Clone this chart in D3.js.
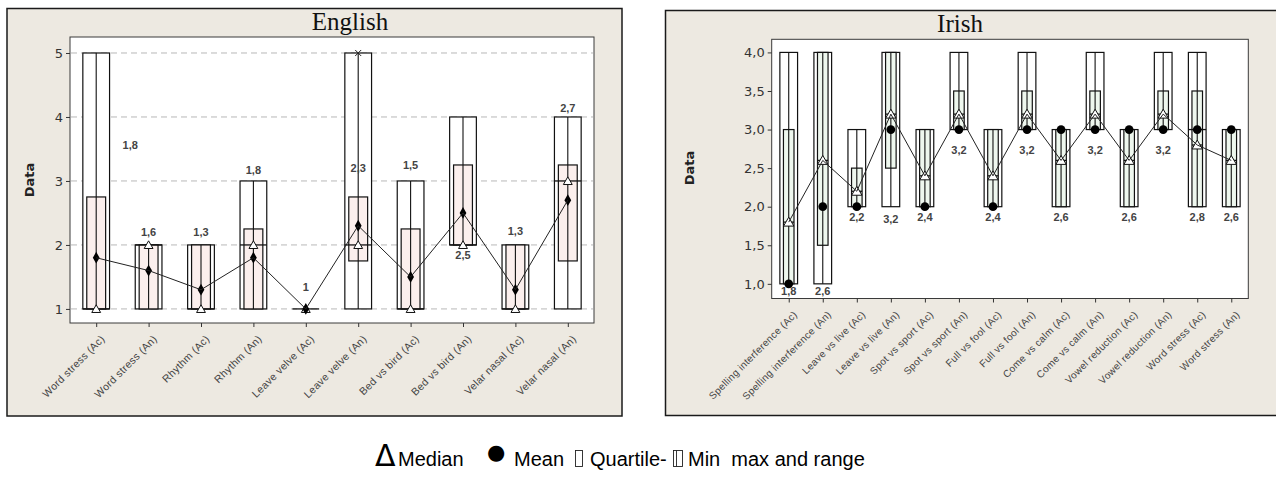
<!DOCTYPE html>
<html>
<head>
<meta charset="utf-8">
<script src="https://cdn.jsdelivr.net/npm/d3@7"></script>
<style>
  html, body { margin: 0; padding: 0; background: #ffffff; }
  svg { display: block; }
</style>
</head>
<body>
<svg id="chart" width="1276" height="485"></svg>
<script>
// ---------- English panel data ----------
const engCategories = ["Word stress (Ac)", "Word stress (An)", "Rhythm (Ac)", "Rhythm (An)",
  "Leave velve (Ac)", "Leave velve (An)", "Bed vs bird (Ac)", "Bed vs bird (An)",
  "Velar nasal (Ac)", "Velar nasal (An)"];
const engMin    = [1, 1, 1, 1, 1, 1, 1, 2, 1, 1];
const engMax    = [5, 2, 2, 3, 1, 5, 3, 4, 2, 4];
const engQ1     = [1, 1, 1, 1, 1, 1.75, 1, 2, 1, 1.75];
const engQ3     = [2.75, 2, 2, 2.25, 1, 2.75, 2.25, 3.25, 2, 3.25];
const engMedian = [1, 2, 1, 2, 1, 2, 1, 2, 1, 3];
const engMean   = [1.8, 1.6, 1.3, 1.8, 1, 2.3, 1.5, 2.5, 1.3, 2.7];
const engOutlier = [null, null, null, null, null, 5, null, null, null, null];
const engTicks  = [1, 2, 3, 4, 5];

// ---------- Irish panel data ----------
const irCategories = ["Spelling interference (Ac)", "Spelling interference (An)",
  "Leave vs live (Ac)", "Leave vs live (An)", "Spot vs sport (Ac)", "Spot vs sport (An)",
  "Full vs fool (Ac)", "Full vs fool (An)", "Come vs calm (Ac)", "Come vs calm (An)",
  "Vowel reduction (Ac)", "Vowel reduction (An)", "Word stress (Ac)", "Word stress (An)"];
const irMin    = [1, 1, 2, 2, 2, 3, 2, 3, 2, 3, 2, 3, 2, 2];
const irMax    = [4, 4, 3, 4, 3, 4, 3, 4, 3, 4, 3, 4, 4, 3];
const irQ1     = [1, 1.5, 2, 2.5, 2, 3, 2, 3, 2, 3, 2, 3, 2, 2];
const irQ3     = [3, 4, 2.5, 4, 3, 3.5, 3, 3.5, 3, 3.5, 3, 3.5, 3.5, 3];
const irMedian = [1.8, 2.6, 2.2, 3.2, 2.4, 3.2, 2.4, 3.2, 2.6, 3.2, 2.6, 3.2, 2.8, 2.6];
const irMean   = [1, 2, 2, 3, 2, 3, 2, 3, 3, 3, 3, 3, 3, 3];
const irCut    = [null, null, null, null, null, null, null, null, null, null, null, null, 3, null];
const irTicks  = [1, 1.5, 2, 2.5, 3, 3.5, 4];

// value-label placement (in data units on the y axis)
const engLabelAt = [3.56, 2.2, 2.2, 3.17, 1.34, 3.2, 3.25, 1.84, 2.22, 4.14];
const irLabelAt  = [0.9, 0.9, 1.86, 1.84, 1.86, 2.73, 1.86, 2.73, 1.87, 2.73, 1.87, 2.73, 1.87, 1.87];

const svg = d3.select("#chart");
const commaFmt = d => d3.format(".1f")(d).replace(".", ",");
const intOrComma = d => Number.isInteger(d) ? String(d) : commaFmt(d);

function panel(cfg) {
  const g = svg.append("g");
  // outer frame
  g.append("rect")
    .attr("x", cfg.frame.x).attr("y", cfg.frame.y)
    .attr("width", cfg.frame.w).attr("height", cfg.frame.h)
    .attr("fill", "#ede9e1").attr("stroke", "#1a1a1a").attr("stroke-width", 1.5);
  // plot area
  g.append("rect")
    .attr("x", cfg.plot.x).attr("y", cfg.plot.y)
    .attr("width", cfg.plot.w).attr("height", cfg.plot.h)
    .attr("fill", "#ffffff").attr("stroke", "#3a3a3a").attr("stroke-width", 1);

  // title
  g.append("text")
    .attr("x", cfg.titleX).attr("y", cfg.titleY)
    .attr("text-anchor", "middle")
    .attr("font-family", "'Liberation Serif', 'Times New Roman', serif")
    .attr("font-size", 25).attr("fill", "#111")
    .text(cfg.title);

  const x = d3.scalePoint().domain(cfg.categories)
    .range([cfg.plot.x, cfg.plot.x + cfg.plot.w]).padding(0.5);
  const y = d3.scaleLinear().domain(cfg.yDomain)
    .range([cfg.plot.y + cfg.plot.h, cfg.plot.y]);
  const step = x.step();
  const outerW = step * cfg.outerFrac, innerW = step * cfg.innerFrac;

  // gridlines
  if (cfg.grid) {
    g.append("g").selectAll("line").data(cfg.ticks).join("line")
      .attr("x1", cfg.plot.x + 1).attr("x2", cfg.plot.x + cfg.plot.w - 1)
      .attr("y1", d => y(d)).attr("y2", d => y(d))
      .attr("stroke", "#b8b8b8").attr("stroke-width", 1)
      .attr("stroke-dasharray", "6,4");
  }

  // y axis
  const yAxis = g.append("g")
    .attr("transform", `translate(${cfg.plot.x},0)`)
    .call(d3.axisLeft(y).tickValues(cfg.ticks).tickSize(4).tickPadding(3).tickFormat(cfg.tickFmt));
  yAxis.select(".domain").remove();
  yAxis.selectAll(".tick line").attr("stroke", "#333");
  yAxis.selectAll(".tick text")
    .attr("font-family", "'DejaVu Sans', Verdana, sans-serif")
    .attr("font-size", 13).attr("fill", "#333");

  // y axis title
  g.append("text")
    .attr("transform", `translate(${cfg.yTitleX},${cfg.yTitleY}) rotate(-90)`)
    .attr("text-anchor", "middle")
    .attr("font-family", "'DejaVu Sans', Verdana, sans-serif")
    .attr("font-weight", "bold").attr("font-size", 13).attr("fill", "#222")
    .text("Data");

  // x axis
  const xAxis = g.append("g")
    .attr("transform", `translate(0,${cfg.plot.y + cfg.plot.h})`)
    .call(d3.axisBottom(x).tickSize(4).tickPadding(4));
  xAxis.select(".domain").remove();
  xAxis.selectAll(".tick line").attr("stroke", "#333");
  xAxis.selectAll(".tick text")
    .attr("font-family", "'Liberation Sans', Arial, sans-serif")
    .attr("font-size", cfg.xFont).attr("fill", "#444")
    .attr("letter-spacing", 0.3)
    .attr("text-anchor", "end")
    .attr("dy", 0)
    .attr("transform", "translate(3,11) rotate(-45)");

  const idx = d3.range(cfg.categories.length);
  const cx = i => x(cfg.categories[i]);

  // range boxes (min to max)
  g.append("g").selectAll("rect").data(idx).join("rect")
    .attr("x", i => cx(i) - outerW / 2).attr("width", outerW)
    .attr("y", i => y(cfg.max[i])).attr("height", i => y(cfg.min[i]) - y(cfg.max[i]))
    .attr("fill", "#ffffff").attr("stroke", "#111").attr("stroke-width", 1.2);

  // quartile boxes
  g.append("g").selectAll("rect").data(idx).join("rect")
    .attr("x", i => cx(i) - innerW / 2).attr("width", innerW)
    .attr("y", i => y(cfg.q3[i])).attr("height", i => y(cfg.q1[i]) - y(cfg.q3[i]))
    .attr("fill", cfg.fill).attr("stroke", "#111").attr("stroke-width", 1.2);

  // centre line of each range
  g.append("g").selectAll("line").data(idx).join("line")
    .attr("x1", i => cx(i)).attr("x2", i => cx(i))
    .attr("y1", i => y(cfg.max[i])).attr("y2", i => y(cfg.min[i]))
    .attr("stroke", "#111").attr("stroke-width", 1.1);

  // median bar
  const mw = cfg.medianBarOuter ? outerW : innerW;
  g.append("g").selectAll("line").data(idx).join("line")
    .attr("x1", i => cx(i) - mw / 2).attr("x2", i => cx(i) + mw / 2)
    .attr("y1", i => y(cfg.median[i])).attr("y2", i => y(cfg.median[i]))
    .attr("stroke", "#111").attr("stroke-width", 1.3);

  // extra cut line across the range box
  if (cfg.cut) {
    g.append("g").selectAll("line").data(idx.filter(i => cfg.cut[i] != null)).join("line")
      .attr("x1", i => cx(i) - outerW / 2).attr("x2", i => cx(i) + outerW / 2)
      .attr("y1", i => y(cfg.cut[i])).attr("y2", i => y(cfg.cut[i]))
      .attr("stroke", "#111").attr("stroke-width", 1.3);
  }

  // outlier crosses
  if (cfg.outlier) {
    g.append("g").selectAll("path").data(idx.filter(i => cfg.outlier[i] != null)).join("path")
      .attr("transform", i => `translate(${cx(i)},${y(cfg.outlier[i])})`)
      .attr("d", "M-3,-3L3,3M-3,3L3,-3")
      .attr("stroke", "#222").attr("stroke-width", 1);
  }

  // median triangles
  const tri = d3.symbol().type(d3.symbolTriangle).size(cfg.triSize);
  g.append("g").selectAll("path").data(idx).join("path")
    .attr("transform", i => `translate(${cx(i)},${y(cfg.median[i]) + 1})`)
    .attr("d", tri)
    .attr("fill", "#ffffff").attr("stroke", "#111").attr("stroke-width", 1);

  // mean markers
  const meanSym = d3.symbol().type(cfg.meanShape).size(cfg.meanSize);
  g.append("g").selectAll("path").data(idx).join("path")
    .attr("transform", i => `translate(${cx(i)},${y(cfg.mean[i])})`)
    .attr("d", meanSym)
    .attr("fill", "#000");

  // connecting line
  const lineVals = cfg.connect;
  g.append("path")
    .datum(idx)
    .attr("d", d3.line().x(i => cx(i)).y(i => y(lineVals[i])))
    .attr("fill", "none").attr("stroke", "#222").attr("stroke-width", 1);

  // value labels
  g.append("g").selectAll("text").data(idx).join("text")
    .attr("x", i => cx(i) + (cfg.labelDx[i] || 0))
    .attr("y", i => y(cfg.labelAt[i]))
    .attr("dy", "0.35em")
    .attr("text-anchor", "middle")
    .attr("font-family", "'Liberation Sans', Arial, sans-serif")
    .attr("font-weight", "bold").attr("font-size", 11).attr("fill", "#444")
    .text(i => cfg.labelFmt(cfg.labelVals[i]));
}

panel({
  title: "English", titleX: 350, titleY: 30,
  frame: { x: 7, y: 8.5, w: 615, h: 407.5 },
  plot: { x: 70, y: 37, w: 524, h: 286 },
  yTitleX: 34, yTitleY: 180, xFont: 10.5,
  categories: engCategories,
  min: engMin, max: engMax, q1: engQ1, q3: engQ3,
  median: engMedian, mean: engMean, outlier: engOutlier,
  connect: engMean, labelVals: engMean, labelAt: engLabelAt,
  labelDx: [34], labelFmt: intOrComma,
  yDomain: [0.78, 5.25], ticks: engTicks, tickFmt: d3.format("d"), grid: true,
  outerFrac: 0.51, innerFrac: 0.36, medianBarOuter: true,
  fill: "#fbefed", triSize: 34, meanShape: d3.symbolDiamond, meanSize: 40
});

panel({
  title: "Irish", titleX: 960, titleY: 32,
  frame: { x: 665.5, y: 10.5, w: 640, h: 405 },
  plot: { x: 771.7, y: 39.3, w: 476.6, h: 259.2 },
  yTitleX: 694, yTitleY: 168, xFont: 10,
  categories: irCategories,
  min: irMin, max: irMax, q1: irQ1, q3: irQ3,
  median: irMedian, mean: irMean, cut: irCut,
  connect: irMedian, labelVals: irMedian, labelAt: irLabelAt,
  labelDx: [], labelFmt: commaFmt,
  yDomain: [0.81, 4.17], ticks: irTicks, tickFmt: commaFmt, grid: false,
  outerFrac: 0.52, innerFrac: 0.31, medianBarOuter: false,
  fill: "#eef7ee", triSize: 46, meanShape: d3.symbolCircle, meanSize: 60
});

// ---------- legend ----------
const legendText = [
  { t: "\u0394", x: 375, size: 30, dy: 0, family: "'DejaVu Sans', sans-serif" },
  { t: "Median", x: 398, size: 20, dy: 0 },
  { t: "\u25CF", x: 487, size: 21, dy: -7, family: "'DejaVu Sans', sans-serif" },
  { t: "Mean", x: 514, size: 20, dy: 0 },
  { t: "Quartile-", x: 590, size: 20, dy: 0 },
  { t: "Min  max and range", x: 688, size: 20, dy: 0 }
];
svg.append("g").selectAll("text").data(legendText).join("text")
  .attr("x", d => d.x).attr("y", d => 466 + d.dy)
  .attr("font-family", d => d.family || "'Liberation Sans', Arial, sans-serif")
  .attr("font-size", d => d.size).attr("fill", "#000")
  .style("white-space", "pre")
  .text(d => d.t);

// empty glyph boxes of the legend
const legendBoxes = [
  { x: 575, w: 7, inner: false },
  { x: 673, w: 9, inner: true }
];
const lb = svg.append("g").attr("fill", "none").attr("stroke", "#222").attr("stroke-width", 0.9);
legendBoxes.forEach(b => {
  lb.append("rect").attr("x", b.x + 0.5).attr("y", 450.5).attr("width", b.w).attr("height", 16);
  if (b.inner) {
    lb.append("line").attr("x1", b.x + 3.5).attr("x2", b.x + 3.5).attr("y1", 450.5).attr("y2", 466.5);
  }
});
</script>
</body>
</html>
